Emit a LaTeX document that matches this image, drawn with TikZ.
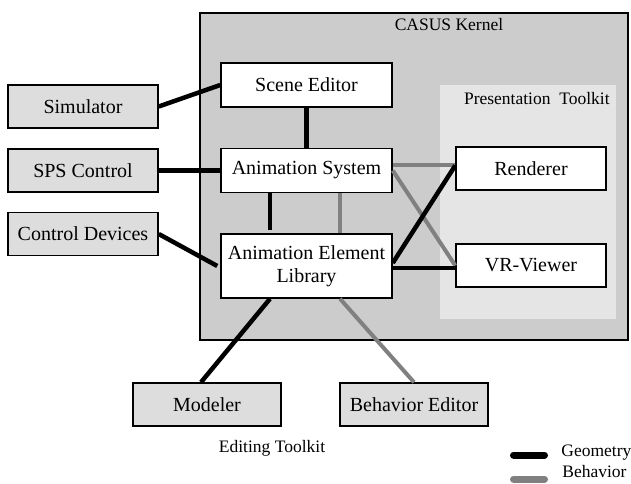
\documentclass[tikz,border=0pt]{standalone}
\usepackage{fontspec}
\setmainfont{Liberation Serif}
\newfontfamily\timesfont{Liberation Serif}
\usepackage{tikz}
\usetikzlibrary{positioning,calc}

\definecolor{kernelgray}{RGB}{204,204,204}
\definecolor{toolgray}{RGB}{229,229,229}
\definecolor{extgray}{RGB}{221,221,221}
\definecolor{behgray}{RGB}{128,128,128}

\begin{document}
\begin{tikzpicture}[
    x=1pt, y=1pt,
    thick,
    block/.style={draw, line width=1.5pt, rectangle, fill=white, minimum height=44pt, minimum width=171pt, align=center, inner sep=0pt, font=\timesfont\fontsize{20}{23}\selectfont},
    extblock/.style={block, fill=extgray, minimum width=150pt, minimum height=43pt},
    lbl/.style={inner sep=0pt, font=\timesfont\fontsize{17.5}{20}\selectfont},
    geom/.style={line width=4.5pt, black},
    behav/.style={line width=4pt, behgray}
]
    \useasboundingbox (0,0) rectangle (631,483);

    \node[draw, line width=1.2pt, fill=kernelgray, minimum width=428pt, minimum height=327pt, inner sep=0pt] (kernel) at (414,306.5) {};
    \node[lbl] (kernellbl) at (449,458) {CASUS Kernel};
    \node[fill=toolgray, minimum width=176pt, minimum height=234pt, inner sep=0pt] (present) at (528,281) {};
    \node[lbl, anchor=east] (presentlbl) at (610,384) {Presentation\ \ Toolkit};

    \node[block] (scene) at (306.5,398) {Scene Editor};
    \node[block] (anim) at (306.5,312.5) {Animation System};
    \node[block, minimum height=64pt] (ael) at (306.5,217) {Animation Element\\Library};

    \node[block, minimum width=150pt, minimum height=43pt] (rend) at (531,314.5) {Renderer};
    \node[block, minimum width=150pt, minimum height=43pt] (vr) at (531,217.5) {VR-Viewer};

    \node[extblock] (sim) at (83,376.5) {Simulator};
    \node[extblock] (sps) at (83,312.5) {SPS Control};
    \node[extblock] (cdev) at (83,249) {Control Devices};

    \node[extblock, minimum width=148pt] (model) at (207,78.5) {Modeler};
    \node[extblock, minimum width=148pt] (beheditor) at (414,78.5) {Behavior Editor};
    \node[lbl] (editlbl) at (272,35) {Editing Toolkit};

    \coordinate (anim_r)  at ($(anim.east) + (0, 6)$);
    \coordinate (ael_vr)  at ($(ael.east) + (0, -2)$);
    \coordinate (ael_rd)  at ($(ael.east) + (0, 3)$);
    \coordinate (rend_ae) at ($(rend.west) + (0, 3)$);
    \coordinate (anim_g)  at ($(anim.south) + (-36.5, 0)$);
    \coordinate (anim_b)  at ($(anim.south) + (33.5, 0)$);
    \coordinate (ael_g)   at ($(ael.south) + (-36.5, 0)$);
    \coordinate (ael_b)   at ($(ael.south) + (33.5, 0)$);
    \coordinate (model_n) at ($(model.north) + (-6, 0)$);

    \draw[geom] (sim.east) -- (scene.west);
    \draw[geom] (sps.east) -- (anim.west);
    \draw[geom] (cdev.east) -- ($(ael.west) + (-3, 0)$);
    \draw[geom] (scene.south) -- (anim.north);
    \draw[geom] (anim_g) -- ($(anim_g |- ael.north) + (0, 3)$);
    \draw[behav] (anim_b) -- (anim_b |- ael.north);

    \draw[behav] (anim_r) -- (anim_r -| rend.west);
    \draw[behav] (anim.east) -- (vr.west);
    \draw[geom] (ael_rd) -- (rend_ae);
    \draw[geom] (ael_vr) -- (ael_vr -| vr.west);

    \draw[geom] (ael_g) -- (model_n);
    \draw[behav] (ael_b) -- (beheditor.north);

    \node[lbl, anchor=west] (geolbl) at (561,30) {Geometry};
    \node[lbl, anchor=west] (behlbl) at (562,11) {Behavior};
    \coordinate (geo_a) at (513.5,28);
    \coordinate (geo_b) at (544.5,28);
    \coordinate (beh_a) at (513.5,4);
    \coordinate (beh_b) at (544.5,4);
    \draw[black, line width=7pt, line cap=round] (geo_a) -- (geo_b);
    \draw[behgray, line width=7pt, line cap=round] (beh_a) -- (beh_b);

\end{tikzpicture}
\end{document}
